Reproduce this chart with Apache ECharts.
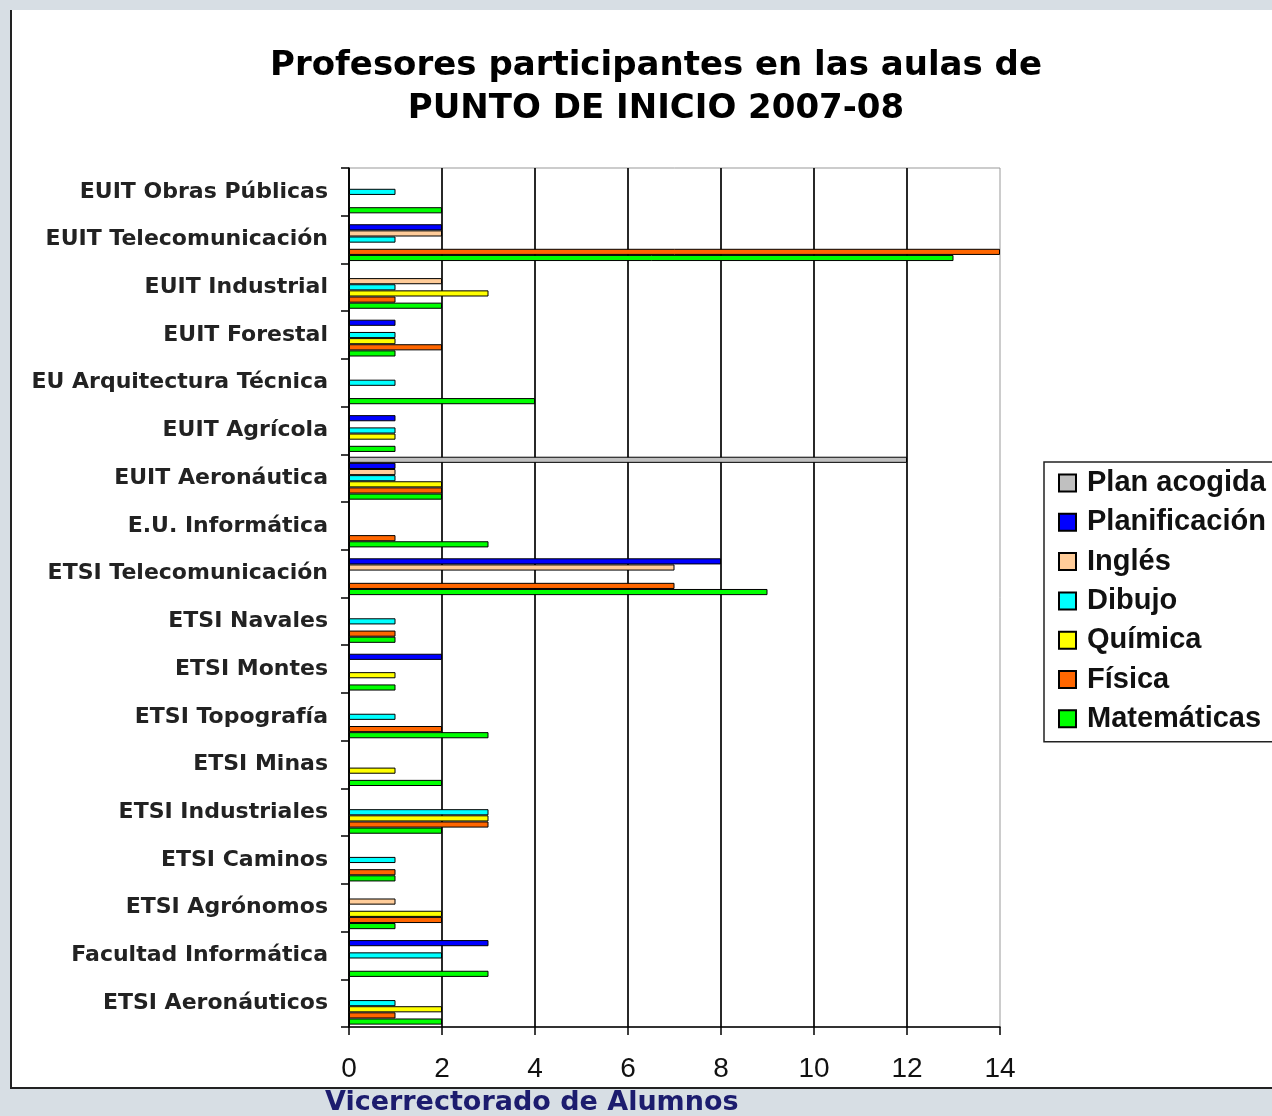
<!DOCTYPE html>
<html>
<head>
<meta charset="utf-8">
<script src="https://cdn.jsdelivr.net/npm/echarts@6/dist/echarts.min.js"></script>
<style>
html,body{margin:0;padding:0;background:#d7dee4;}
#chart{width:1272px;height:1116px;}
</style>
</head>
<body>
<div id="chart"></div>
<script>
const categories = ["EUIT Obras Públicas","EUIT Telecomunicación","EUIT Industrial","EUIT Forestal","EU Arquitectura Técnica","EUIT Agrícola","EUIT Aeronáutica","E.U. Informática","ETSI Telecomunicación","ETSI Navales","ETSI Montes","ETSI Topografía","ETSI Minas","ETSI Industriales","ETSI Caminos","ETSI Agrónomos","Facultad Informática","ETSI Aeronáuticos"];
const planAcogida   = [null,null,null,null,null,null,12,null,null,null,null,null,null,null,null,null,null,null];
const planificacion = [null,2,null,1,null,1,1,null,8,null,2,null,null,null,null,null,3,null];
const ingles        = [null,2,2,null,null,null,1,null,7,null,null,null,null,null,null,1,null,null];
const dibujo        = [1,1,1,1,1,1,1,null,null,1,null,1,null,3,1,null,2,1];
const quimica       = [null,null,3,1,null,1,2,null,null,null,1,null,1,3,null,2,null,2];
const fisica        = [null,14,1,2,null,null,2,1,7,1,null,2,null,3,1,2,null,1];
const matematicas   = [2,13,2,1,4,1,2,3,9,1,1,3,2,2,1,1,3,2];
const xTicks = [0,2,4,6,8,10,12,14];
const seriesNames = ["Plan acogida","Planificación","Inglés","Dibujo","Química","Física","Matemáticas"];
const seriesData = [planAcogida,planificacion,ingles,dibujo,quimica,fisica,matematicas];
const seriesColors = ["#c0c0c0","#0000ff","#ffcc99","#00ffff","#ffff00","#ff6600","#00ff00"];

const chart = echarts.init(document.getElementById('chart'));
const font = '"Liberation Sans", Arial, sans-serif';
const wide = '"DejaVu Sans", Verdana, sans-serif';
chart.setOption({
  backgroundColor: '#d7dee4',
  animation: false,
  graphic: [
    {type:'rect', z:-10, shape:{x:10,y:10,width:1280,height:1079}, style:{fill:'#ffffff'}},
    {type:'line', z:-9, shape:{x1:11,y1:10,x2:11,y2:1089}, style:{stroke:'#222',lineWidth:2}},
    {type:'line', z:-9, shape:{x1:10,y1:1088,x2:1280,y2:1088}, style:{stroke:'#222',lineWidth:2}},
    {type:'text', left:325, top:1089, style:{text:'Vicerrectorado de Alumnos', fill:'#1c1c6e', font:'bold 27px "DejaVu Sans", sans-serif'}}
  ],
  title: {
    text: 'Profesores participantes en las aulas de\nPUNTO DE INICIO 2007-08',
    left: 651, top: 40, textAlign: 'center',
    textStyle: {fontFamily: wide, fontSize: 34, fontWeight: 'bold', color: '#000', lineHeight: 43}
  },
  legend: {
    orient: 'vertical', left: 1044, top: 462,
    padding: [6, 14, 8, 14],
    backgroundColor: '#fff', borderColor: '#222', borderWidth: 1.5,
    itemWidth: 17, itemHeight: 17, itemGap: 9.3,
    icon: 'rect',
    textStyle: {fontFamily: font, fontSize: 29, fontWeight: 'bold', color: '#111', lineHeight: 30, padding: [0,0,0,6]},
    data: seriesNames
  },
  grid: {left: 349, top: 168, width: 651, height: 859, show: true, borderColor: '#999', borderWidth: 1, backgroundColor: 'transparent'},
  xAxis: {
    type: 'value', min: 0, max: 14, interval: 2,
    axisLine: {show: true, lineStyle: {color: '#000', width: 1.5}},
    axisTick: {show: true, length: 8, lineStyle: {color: '#000', width: 1.5}},
    axisLabel: {fontFamily: font, fontSize: 28, color: '#111', margin: 28,
      formatter: v => xTicks.includes(v) ? String(v) : ''},
    splitLine: {show: true, showMaxLine: false, lineStyle: {color: '#111', width: 1.8}}
  },
  yAxis: {
    type: 'category', data: categories, inverse: true,
    axisLine: {show: true, lineStyle: {color: '#000', width: 1.5}},
    axisTick: {show: true, length: 8, lineStyle: {color: '#000', width: 1.5}},
    axisLabel: {fontFamily: wide, fontSize: 22, fontWeight: 'bold', color: '#222', margin: 21},
    splitLine: {show: false}
  },
  series: seriesNames.map((n, i) => ({
    name: n, type: 'bar', data: seriesData[i],
    barGap: '0%', barCategoryGap: '10%',
    itemStyle: {color: seriesColors[i], borderColor: '#000', borderWidth: 1}
  }))
});
</script>
</body>
</html>
